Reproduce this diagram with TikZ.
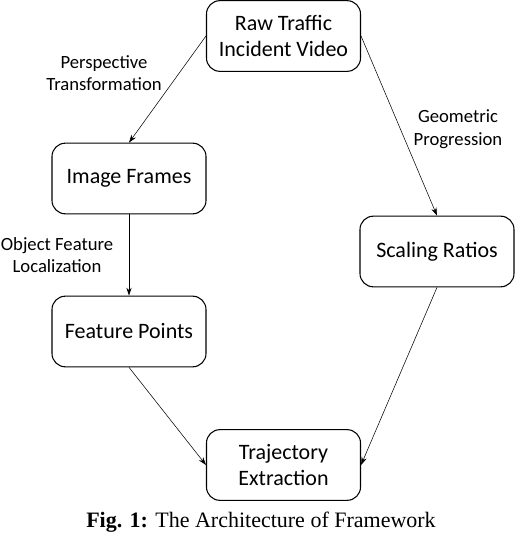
\documentclass[tikz,border=0pt]{standalone}
\usepackage{fontspec}
\setmainfont{Carlito}
\newfontfamily\captionfont{Liberation Serif}
\usetikzlibrary{arrows.meta}

\begin{document}
\begin{tikzpicture}[
    x=0.75pt, y=-0.75pt,
    stage/.style={draw, rounded corners=10pt, line width=0.8pt,
        minimum width=115.5pt, minimum height=53pt, align=center,
        font=\fontsize{16.5}{20}\selectfont},
    label/.style={align=center, font=\fontsize{14}{17}\selectfont},
    flow/.style={-{Stealth[length=6pt,width=4pt]}, line width=0.4pt},
    mainflow/.style={flow, line width=0.7pt}
]
\clip (0,0) rectangle (516,534);

% Stages
\node[stage] (raw) at (283.5,36) {Raw Traffic\\Incident Video};
\node[stage] (img) at (129,178.5) {Image Frames};
\node[stage] (scale) at (437,251.5) {Scaling Ratios};
\node[stage] (feat) at (129,331.5) {Feature Points};
\node[stage] (traj) at (283.5,465) {Trajectory\\Extraction};

% Labels
\node[label] (persp) at (104,73) {Perspective\\Transformation};
\node[label] (geom) at (458,129) {Geometric\\Progression};
\node[label] (obj) at (57,255) {Object Feature\\Localization};

% Connections
\draw[flow] (raw.west) -- (img.north);
\draw[flow] (raw.east) -- (scale.north);
\draw[mainflow] (img.south) -- (feat.north);
\draw[flow] (feat.south) -- (traj.west);
\draw[flow] (scale.south) -- (traj.east);

% Caption
\node[anchor=base, font=\captionfont\fontsize{16.5}{20}\selectfont] (cap) at (261,527)
    {\textbf{Fig. 1:} The Architecture of Framework};

\end{tikzpicture}
\end{document}
